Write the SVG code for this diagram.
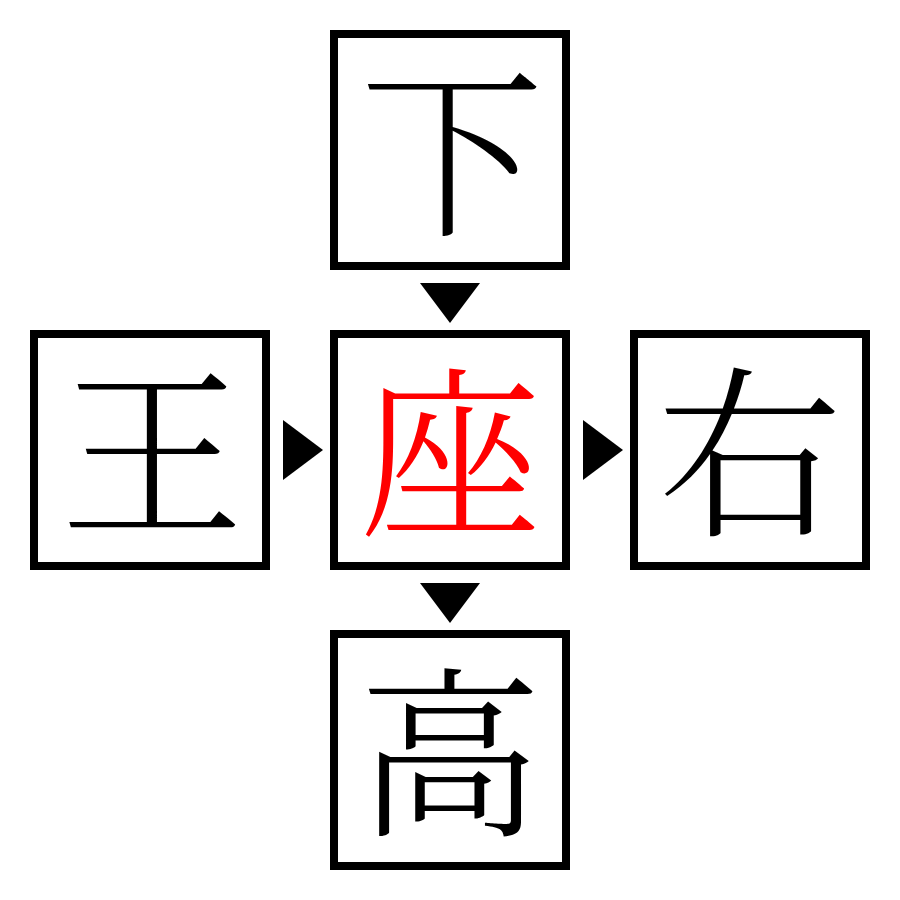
<svg xmlns="http://www.w3.org/2000/svg" width="900" height="900" viewBox="0 0 900 900">
<style>
.box{fill:#fff;stroke:#000;stroke-width:8}
.ch{font-family:"Noto Serif CJK JP","Noto Sans CJK JP","Liberation Serif",serif;font-size:184px;font-weight:300;text-anchor:middle;dominant-baseline:central;fill:#000}
.red{fill:#ff0000}
.arr{fill:#000}
</style>
<rect width="900" height="900" fill="#fff"/>
<g id="node-top"><rect class="box" x="334" y="34" width="232" height="232"/><text class="ch" x="452" y="142">下</text></g>
<g id="node-left"><rect class="box" x="34" y="334" width="232" height="232"/><text class="ch" x="152" y="442">王</text></g>
<g id="node-center"><rect class="box" x="334" y="334" width="232" height="232"/><text class="ch red" x="450" y="442">座</text></g>
<g id="node-right"><rect class="box" x="634" y="334" width="232" height="232"/><text class="ch" x="750" y="442">右</text></g>
<g id="node-bottom"><rect class="box" x="334" y="634" width="232" height="232"/><text class="ch" x="450" y="742">高</text></g>
<g id="connectors">
<polygon class="arr" points="420,283 480,283 450,323"/>
<polygon class="arr" points="283,420 283,480 323,450"/>
<polygon class="arr" points="583,420 583,480 623,450"/>
<polygon class="arr" points="420,583 480,583 450,623"/>
</g>
</svg>
